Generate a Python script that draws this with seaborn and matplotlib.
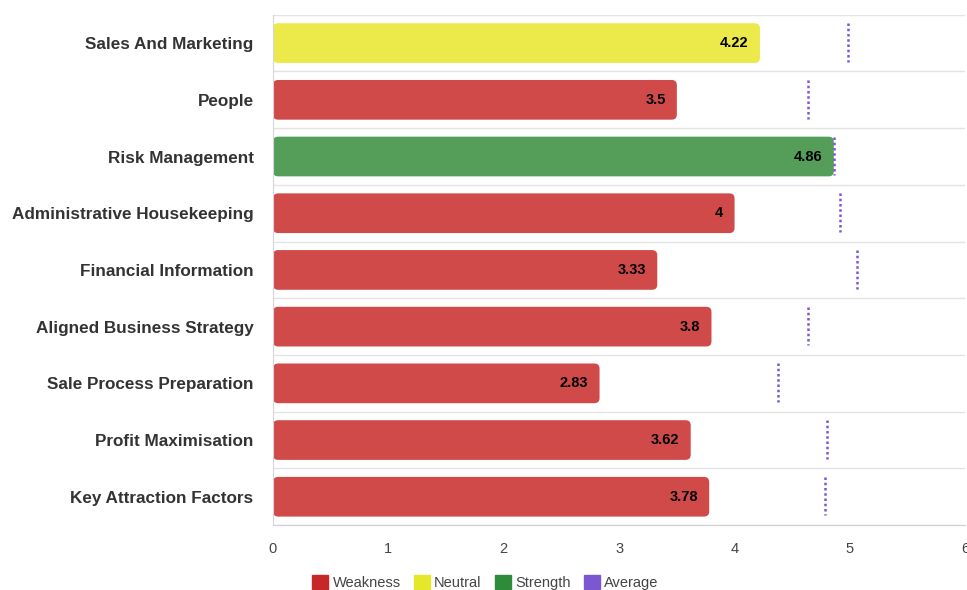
import pandas as pd
import matplotlib
matplotlib.use("Agg")
import matplotlib.pyplot as plt
import seaborn as sns
from matplotlib.patches import Patch, FancyBboxPatch

categories = [
    "Sales And Marketing",
    "People",
    "Risk Management",
    "Administrative Housekeeping",
    "Financial Information",
    "Aligned Business Strategy",
    "Sale Process Preparation",
    "Profit Maximisation",
    "Key Attraction Factors",
]
scores = [4.22, 3.5, 4.86, 4, 3.33, 3.8, 2.83, 3.62, 3.78]
status = ["Neutral", "Weakness", "Strength", "Weakness", "Weakness",
          "Weakness", "Weakness", "Weakness", "Weakness"]
averages = [4.98, 4.64, 4.86, 4.91, 5.06, 4.64, 4.38, 4.80, 4.78]

bar_colors = {"Weakness": "#d14a4a", "Neutral": "#ebea4a", "Strength": "#549e5a"}
legend_colors = {"Weakness": "#c62828", "Neutral": "#e6e62a",
                 "Strength": "#2e8b3a", "Average": "#7b57d1"}

df = pd.DataFrame({"category": categories, "score": scores, "status": status})

sns.set_style("white")
plt.rcParams["font.family"] = ["Liberation Sans", "DejaVu Sans"]

fig = plt.figure(figsize=(9.67, 5.9), dpi=100)
ax = fig.add_axes([0.2823, 0.110, 0.716, 0.865])

sns.barplot(
    data=df,
    x="score",
    y="category",
    hue="status",
    palette=bar_colors,
    saturation=1,
    dodge=False,
    width=0.7,
    legend=False,
    ax=ax,
)

ax.set_xlim(0, 6)
ax.set_ylim(len(categories) - 0.5, -0.5)

# swap the plain bars for rounded ones (same geometry)
for p in list(ax.patches):
    if p.get_width() <= 0:
        continue
    x0, y0 = p.get_x(), p.get_y()
    w, h = p.get_width(), p.get_height()
    rb = FancyBboxPatch(
        (x0, y0), w, h,
        boxstyle="round,pad=0,rounding_size=0.045",
        mutation_aspect=2.0,
        facecolor=p.get_facecolor(),
        edgecolor="none",
        zorder=p.get_zorder(),
    )
    p.set_visible(False)
    ax.add_patch(rb)

# value labels inside the bar end
for i, v in enumerate(scores):
    ax.annotate(
        "{:g}".format(v),
        xy=(v, i),
        xytext=(-8, 0),
        textcoords="offset points",
        ha="right",
        va="center",
        fontsize=10.5,
        fontweight="bold",
        color="black",
    )

# average markers
ys = list(range(len(categories)))
ax.vlines(
    averages,
    [y - 0.35 for y in ys],
    [y + 0.33 for y in ys],
    colors=legend_colors["Average"],
    linestyles=(0, (1, 1.1)),
    linewidth=1.8,
    zorder=3,
)

ax.set_xticks(range(0, 7))
ax.set_xlabel("")
ax.set_ylabel("")

# row separators
ax.set_yticks([y + 0.5 for y in range(-1, len(categories))], minor=True)
ax.grid(True, which="minor", axis="y", color="#e3e3e3", linewidth=1)
ax.grid(False, which="major")
ax.set_axisbelow(True)

for side in ["top", "right"]:
    ax.spines[side].set_visible(False)
ax.spines["left"].set_color("#d6d6d6")
ax.spines["bottom"].set_color("#cfcfcf")

ax.tick_params(axis="y", which="both", length=0, pad=14)
ax.tick_params(axis="x", length=8, color="#cfcfcf", labelsize=10.5,
               labelcolor="#444444", pad=4)
for lbl in ax.get_yticklabels():
    lbl.set_fontweight("bold")
    lbl.set_fontsize(12.3)
    lbl.set_color("#333333")

handles = [Patch(facecolor=legend_colors[k], edgecolor=legend_colors[k], label=k)
           for k in ["Weakness", "Neutral", "Strength", "Average"]]
fig.legend(
    handles=handles,
    loc="center",
    bbox_to_anchor=(0.502, 0.013),
    ncol=4,
    frameon=False,
    fontsize=10.5,
    handlelength=1.1,
    handleheight=1.1,
    handletextpad=0.3,
    columnspacing=0.9,
    labelcolor="#444444",
)

fig.savefig("out.png", dpi=100)
